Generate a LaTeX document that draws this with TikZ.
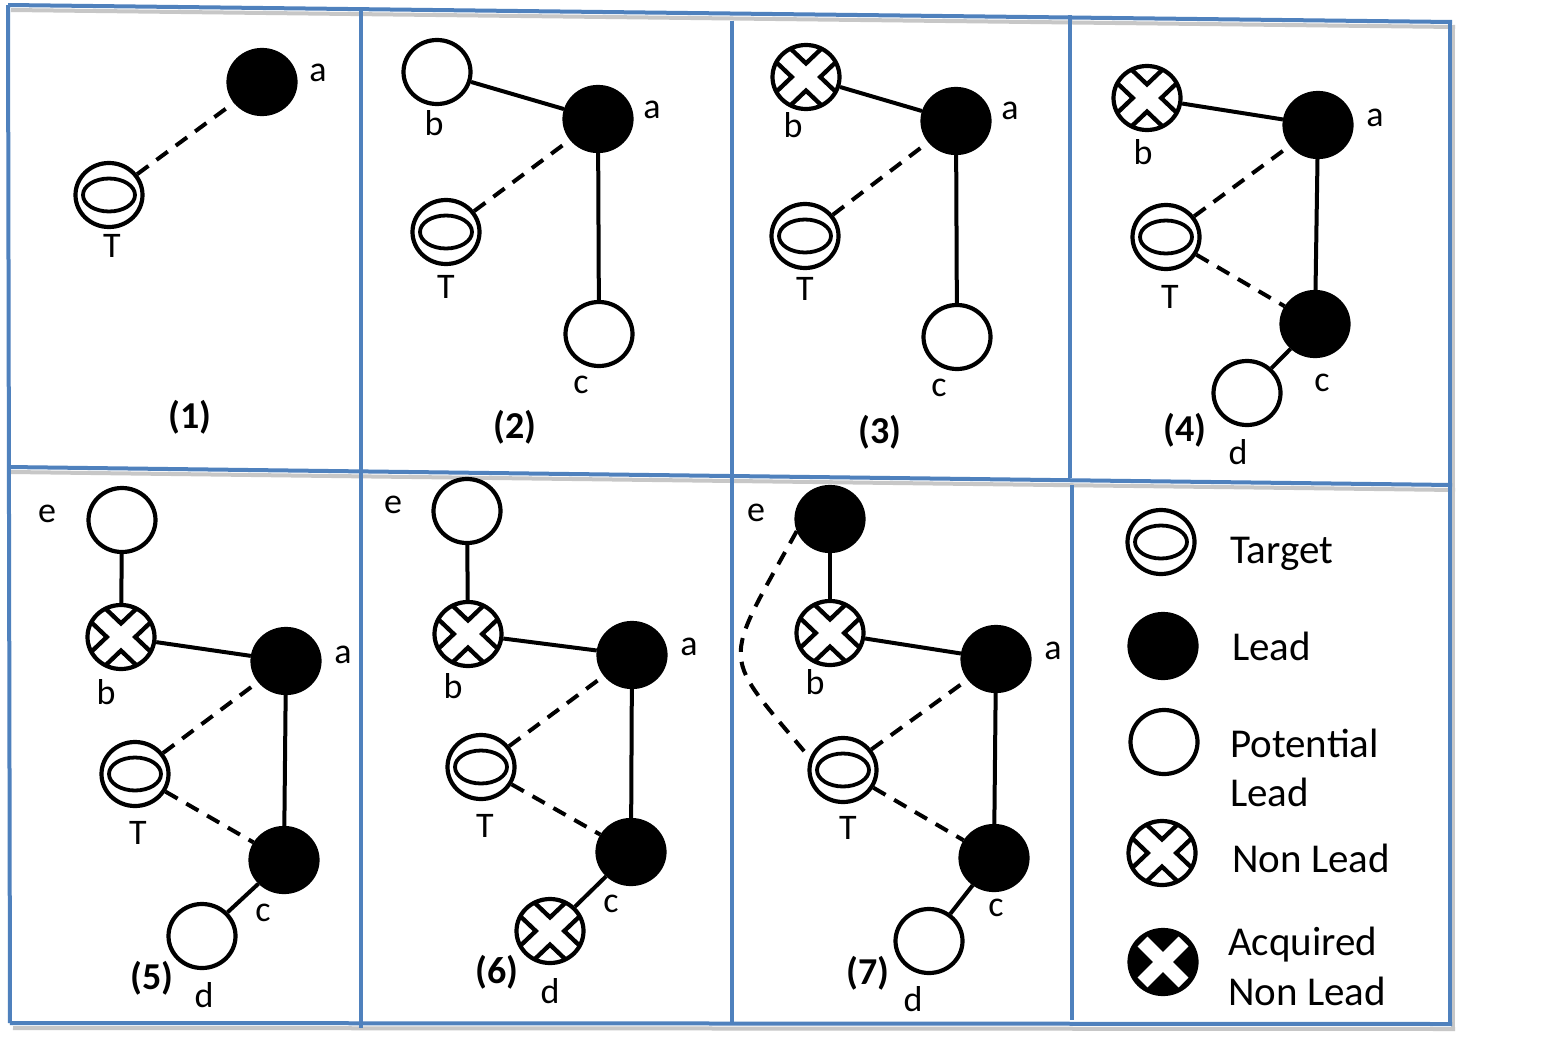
\documentclass[tikz,border=0pt]{standalone}
\usepackage{fontspec}
\setmainfont{Carlito}
\usetikzlibrary{shapes.geometric}
\definecolor{frameblue}{RGB}{79,129,189}
\begin{document}
\begin{tikzpicture}[x=1pt,y=-1pt,
  vtx/.style={ellipse, minimum width=67pt, minimum height=64pt, inner sep=0pt, line width=4.2pt, draw=black},
  lead/.style={vtx, fill=black},
  plead/.style={vtx, fill=white},
  target/.style={vtx, fill=white, path picture={
      \draw[line width=3.8pt] (path picture bounding box.center) ellipse [x radius=26pt, y radius=16.5pt];}},
  nonlead/.style={vtx, fill=white, path picture={
      \draw[line width=24pt] (path picture bounding box.south west) -- (path picture bounding box.north east)
                             (path picture bounding box.north west) -- (path picture bounding box.south east);
      \draw[white, line width=15pt] (path picture bounding box.south west) -- (path picture bounding box.north east)
                             (path picture bounding box.north west) -- (path picture bounding box.south east);}},
  acq/.style={vtx, fill=black, path picture={
      \draw[white, line width=14pt] ([shift={(-20.5pt,-20.5pt)}]path picture bounding box.center) -- ([shift={(20.5pt,20.5pt)}]path picture bounding box.center)
                             ([shift={(-20.5pt,20.5pt)}]path picture bounding box.center) -- ([shift={(20.5pt,-20.5pt)}]path picture bounding box.center);}},
  lbl/.style={font=\fontsize{36}{40}\selectfont, inner sep=0pt},
  num/.style={font=\fontsize{38}{44}\selectfont\bfseries, inner sep=0pt},
  leg/.style={font=\fontsize{41}{48}\selectfont, inner sep=0pt, anchor=base west},
  sline/.style={line width=4pt},
  dline/.style={line width=4pt, dash pattern=on 14pt off 10pt},
  frame/.style={frameblue, line width=4pt},
  fshadow/.style={black!22, line width=4pt}
]
\useasboundingbox (0,0) rectangle (1557,1044);
\fill[white] (0,0) rectangle (1557,1044);

% frame shadows
\draw[fshadow] (11,10) -- (1455,27);
\draw[fshadow] (11,472) -- (1455,490);
\draw[fshadow] (13,1028) -- (1455,1029);
\draw[fshadow] (1453,27) -- (1453,1029);
% frame
\draw[frame] (8,5) -- (1452,22);
\draw[frame] (8,467) -- (1452,485);
\draw[frame] (10,1023) -- (1452,1024);
\draw[frame] (8,5) -- (10,1023);
\draw[frame] (1450,22) -- (1450,1025);
\draw[frame] (361,7) -- (361,1028);
\draw[frame] (732,21) -- (732,1025);
\draw[frame] (1070,15) -- (1070,478);
\draw[frame] (1072,485) -- (1072,1020);

% panel 1
\node[lead] (p1a) at (262,82) {};
\node[target] (p1T) at (109,195) {};
\node[lbl] (l1a) at (318,73) {a};
\node[lbl] (l1T) at (112,246) {T};
\node[num] (n1) at (190,417) {(1)};
\draw[dline] (p1T) -- (p1a);

% panel 2
\node[plead] (p2b) at (437,72) {};
\node[lead] (p2a) at (598,119) {};
\node[target] (p2T) at (446,232) {};
\node[plead] (p2c) at (599,334) {};
\node[lbl] (l2b) at (434,123) {b};
\node[lbl] (l2a) at (652,110) {a};
\node[lbl] (l2T) at (446,287) {T};
\node[lbl] (l2c) at (581,385) {c};
\node[num] (n2) at (515,427) {(2)};
\draw[sline] (p2b) -- (p2a);
\draw[sline] (p2a) -- (p2c);
\draw[dline] (p2T) -- (p2a);

% panel 3
\node[nonlead] (p3b) at (806,77) {};
\node[lead] (p3a) at (956,121) {};
\node[target] (p3T) at (805,236) {};
\node[plead] (p3c) at (957,337) {};
\node[lbl] (l3b) at (793,125) {b};
\node[lbl] (l3a) at (1010,111) {a};
\node[lbl] (l3T) at (805,289) {T};
\node[lbl] (l3c) at (939,388) {c};
\node[num] (n3) at (880,432) {(3)};
\draw[sline] (p3b) -- (p3a);
\draw[sline] (p3a) -- (p3c);
\draw[dline] (p3T) -- (p3a);

% panel 4
\node[nonlead] (p4b) at (1147,98) {};
\node[lead] (p4a) at (1318,125) {};
\node[target] (p4T) at (1166,237) {};
\node[lead] (p4c) at (1315,324) {};
\node[plead] (p4d) at (1247,393) {};
\node[lbl] (l4b) at (1143,152) {b};
\node[lbl] (l4a) at (1375,118) {a};
\node[lbl] (l4T) at (1170,297) {T};
\node[lbl] (l4c) at (1322,383) {c};
\node[lbl] (l4d) at (1238,452) {d};
\node[num] (n4) at (1185,430) {(4)};
\draw[sline] (p4b) -- (p4a);
\draw[sline] (p4a) -- (p4c);
\draw[sline] (p4c) -- (p4d);
\draw[dline] (p4T) -- (p4a);
\draw[dline] (p4T) -- (p4c);

% panel 5
\node[plead] (p5e) at (122,520) {};
\node[nonlead] (p5b) at (121,637) {};
\node[lead] (p5a) at (286,661) {};
\node[target] (p5T) at (135,774) {};
\node[lead] (p5c) at (284,860) {};
\node[plead] (p5d) at (202,936) {};
\node[lbl] (l5e) at (47,514) {e};
\node[lbl] (l5b) at (106,692) {b};
\node[lbl] (l5a) at (343,655) {a};
\node[lbl] (l5T) at (138,833) {T};
\node[lbl] (l5c) at (263,913) {c};
\node[lbl] (l5d) at (204,995) {d};
\node[num] (n5) at (152,978) {(5)};
\draw[sline] (p5e) -- (p5b);
\draw[sline] (p5b) -- (p5a);
\draw[sline] (p5a) -- (p5c);
\draw[sline] (p5c) -- (p5d);
\draw[dline] (p5T) -- (p5a);
\draw[dline] (p5T) -- (p5c);

% panel 6
\node[plead] (p6e) at (467,511) {};
\node[nonlead] (p6b) at (468,634) {};
\node[lead] (p6a) at (632,655) {};
\node[target] (p6T) at (481,767) {};
\node[lead] (p6c) at (631,852) {};
\node[nonlead] (p6d) at (550,931) {};
\node[lbl] (l6e) at (393,505) {e};
\node[lbl] (l6b) at (453,686) {b};
\node[lbl] (l6a) at (689,647) {a};
\node[lbl] (l6T) at (485,826) {T};
\node[lbl] (l6c) at (611,904) {c};
\node[lbl] (l6d) at (550,991) {d};
\node[num] (n6) at (497,972) {(6)};
\draw[sline] (p6e) -- (p6b);
\draw[sline] (p6b) -- (p6a);
\draw[sline] (p6a) -- (p6c);
\draw[sline] (p6c) -- (p6d);
\draw[dline] (p6T) -- (p6a);
\draw[dline] (p6T) -- (p6c);

% panel 7
\node[lead] (p7e) at (830,519) {};
\node[nonlead] (p7b) at (830,633) {};
\node[lead] (p7a) at (996,659) {};
\node[target] (p7T) at (843,770) {};
\node[lead] (p7c) at (994,858) {};
\node[plead] (p7d) at (929,941) {};
\node[lbl] (l7e) at (756,513) {e};
\node[lbl] (l7b) at (815,682) {b};
\node[lbl] (l7a) at (1053,651) {a};
\node[lbl] (l7T) at (848,828) {T};
\node[lbl] (l7c) at (996,908) {c};
\node[lbl] (l7d) at (913,999) {d};
\node[num] (n7) at (868,973) {(7)};
\draw[sline] (p7e) -- (p7b);
\draw[sline] (p7b) -- (p7a);
\draw[sline] (p7a) -- (p7c);
\draw[sline] (p7c) -- (p7d);
\draw[dline] (p7T) -- (p7a);
\draw[dline] (p7T) -- (p7c);
\draw[dline] (p7e.200) .. controls (720,670) and (720,650) .. (p7T.160);

% legend
\node[target] (lgT) at (1161,542) {};
\node[lead] (lgL) at (1163,646) {};
\node[plead] (lgP) at (1164,742) {};
\node[nonlead] (lgN) at (1162,853) {};
\node[acq] (lgA) at (1163,962) {};
\node[leg] (tT) at (1230,563) {Target};
\node[leg] (tL) at (1232,660) {Lead};
\node[leg] (tP1) at (1230,757) {Potential};
\node[leg] (tP2) at (1230,806) {Lead};
\node[leg] (tN) at (1232,872) {Non Lead};
\node[leg] (tA1) at (1228,955) {Acquired};
\node[leg] (tA2) at (1228,1005) {Non Lead};
\end{tikzpicture}
\end{document}
